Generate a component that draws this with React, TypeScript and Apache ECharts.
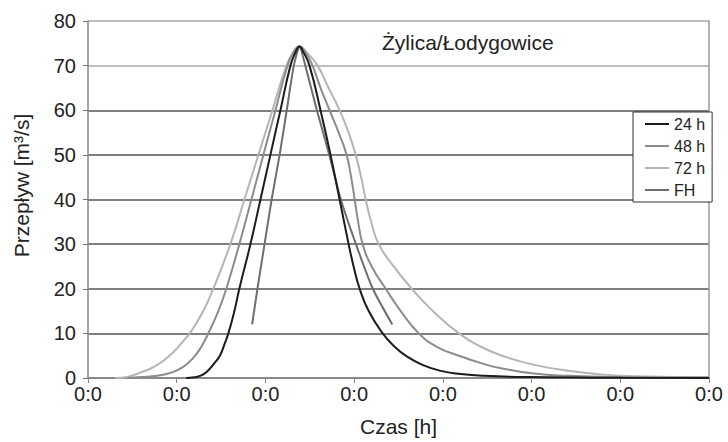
import React, { useEffect, useRef } from "react";
import * as echarts from "echarts";

const xTickLabels = ["0:0", "0:0", "0:0", "0:0", "0:0", "0:0", "0:0", "0:0"];
const seriesNames = ["24 h", "48 h", "72 h", "FH"];
const chartTitle = "Żylica/Łodygowice";

const x24 = [1.107, 1.198, 1.277, 1.345, 1.412, 1.486, 1.537, 1.582, 1.65, 1.706, 1.831, 1.944, 2.056, 2.169, 2.282, 2.339, 2.384, 2.429, 2.497, 2.621, 2.734, 2.836, 2.938, 2.994, 3.062, 3.164, 3.322, 3.458, 3.582, 3.763, 3.977, 4.203, 4.463, 4.994, 6.011, 7.0];
const y24 = [0, 0.15, 0.6, 1.5, 3, 5, 7.5, 10, 15, 20, 30, 40, 50, 60, 70, 73, 74.3, 73, 70, 60, 50, 40, 30, 25, 20, 15, 10, 7, 5, 3, 1.6, 0.9, 0.5, 0.2, 0.05, 0];

const x48 = [0.452, 0.599, 0.78, 0.938, 1.073, 1.186, 1.277, 1.356, 1.469, 1.559, 1.706, 1.842, 1.977, 2.113, 2.249, 2.316, 2.384, 2.452, 2.531, 2.621, 2.723, 2.825, 2.915, 2.966, 3.006, 3.045, 3.096, 3.198, 3.356, 3.525, 3.729, 3.932, 4.181, 4.486, 4.655, 5.028, 5.412, 6.011, 7.0];
const y48 = [0, 0.2, 0.5, 1.2, 2.5, 4.5, 7, 10, 15, 20, 30, 40, 50, 60, 70, 73, 74.3, 73, 70, 65, 60, 55, 50, 45, 40, 35, 30, 25, 20, 15, 10, 7, 5, 3, 2.2, 1.0, 0.5, 0.2, 0.05];

const x72 = [0.305, 0.452, 0.588, 0.723, 0.847, 0.972, 1.062, 1.164, 1.299, 1.412, 1.605, 1.763, 1.921, 2.079, 2.237, 2.316, 2.384, 2.463, 2.588, 2.712, 2.836, 2.938, 3.017, 3.079, 3.13, 3.192, 3.277, 3.446, 3.65, 3.887, 4.181, 4.429, 4.667, 5.017, 5.412, 5.785, 6.158, 7.0];
const y72 = [0, 0.3, 1.2, 2.3, 3.8, 6, 8, 10.5, 15, 20, 30, 40, 50, 60, 70, 73, 74.3, 73, 70, 65, 60, 55, 50, 45, 40, 35, 30, 25, 20, 15, 10, 7, 5, 3, 1.6, 0.8, 0.4, 0.2];

const xFH = [1.85, 1.91, 1.99, 2.07, 2.16, 2.24, 2.32, 2.384, 2.45, 2.58, 2.72, 2.85, 3.02, 3.21, 3.43];
const yFH = [12, 20, 30, 40, 50, 60, 70, 74.3, 70, 60, 50, 40, 30, 20, 12];

const FONT = "'Liberation Sans', Arial, sans-serif";

function pairs(xs: number[], ys: number[]) {
  return xs.map((x, i) => [x, ys[i]]);
}

export default function App() {
  const ref = useRef<HTMLDivElement>(null);
  useEffect(() => {
    if (!ref.current) return;
    const chart = echarts.init(ref.current, undefined, { renderer: "svg" });
    const mk = (name: string, data: number[][], color: string, z: number, smooth: number) => ({
      name,
      type: "line",
      data,
      symbol: "none",
      smooth,
      z,
      lineStyle: { color, width: 2 },
      itemStyle: { color },
    });
    chart.setOption({
      animation: false,
      backgroundColor: "#ffffff",
      textStyle: { fontFamily: FONT },
      title: {
        text: chartTitle,
        left: 382,
        top: 32,
        padding: 0,
        textStyle: { fontFamily: FONT, fontSize: 21, fontWeight: "normal", color: "#222" },
      },
      legend: {
        data: seriesNames,
        orient: "vertical",
        left: 633,
        top: 112,
        padding: [4, 7, 4, 12],
        itemGap: 6,
        itemWidth: 24,
        itemHeight: 2,
        icon: "rect",
        backgroundColor: "#ffffff",
        borderColor: "#333",
        borderWidth: 1,
        borderRadius: 0,
        textStyle: { fontFamily: FONT, fontSize: 16, color: "#222", lineHeight: 16 },
      },
      grid: { left: 88, right: 19, top: 21, bottom: 63, containLabel: false },
      xAxis: {
        type: "value",
        min: 0,
        max: 7,
        interval: 1,
        name: "Czas [h]",
        nameLocation: "middle",
        nameGap: 38,
        nameTextStyle: { fontFamily: FONT, fontSize: 21, color: "#222" },
        axisLine: { show: true, lineStyle: { color: "#888", width: 2 } },
        axisTick: { show: true, length: 5, lineStyle: { color: "#888" } },
        splitLine: { show: false },
        axisLabel: {
          margin: 6,
          fontFamily: FONT,
          fontSize: 20,
          color: "#222",
          formatter: (v: number) => xTickLabels[Math.round(v)] ?? "",
        },
      },
      yAxis: [
        {
          type: "value",
          min: 0,
          max: 80,
          interval: 10,
          name: "Przepływ [m³/s]",
          nameLocation: "middle",
          nameGap: 56,
          nameTextStyle: { fontFamily: FONT, fontSize: 21, color: "#222", padding: [0, 0, 0, 28] },
          axisLine: { show: true, lineStyle: { color: "#888", width: 1.5 } },
          axisTick: { show: true, length: 5, lineStyle: { color: "#777" } },
          axisLabel: { margin: 12, fontFamily: FONT, fontSize: 20, color: "#222" },
          splitLine: {
            show: true,
            lineStyle: {
              width: 1.5,
              color: ["#7a7a7a", "#555", "#555", "#555", "#555", "#555", "#555", "#aaaaaa", "#aaaaaa"],
            },
          },
        },
        {
          type: "value",
          min: 0,
          max: 80,
          interval: 10,
          position: "right",
          axisLine: { show: true, lineStyle: { color: "#999", width: 1.5 } },
          axisTick: { show: false },
          axisLabel: { show: false },
          splitLine: { show: false },
        },
      ],
      series: [
        mk(seriesNames[2], pairs(x72, y72), "#b5b5b5", 2, 0.5),
        mk(seriesNames[1], pairs(x48, y48), "#8c8c8c", 3, 0.5),
        mk(seriesNames[3], pairs(xFH, yFH), "#6e6e6e", 4, 0.2),
        mk(seriesNames[0], pairs(x24, y24), "#1c1c1c", 5, 0.5),
      ],
    });
    return () => chart.dispose();
  }, []);
  return (
    <div
      ref={ref}
      style={{ position: "fixed", left: 0, top: 0, width: 728, height: 442, background: "#fff" }}
    />
  );
}
